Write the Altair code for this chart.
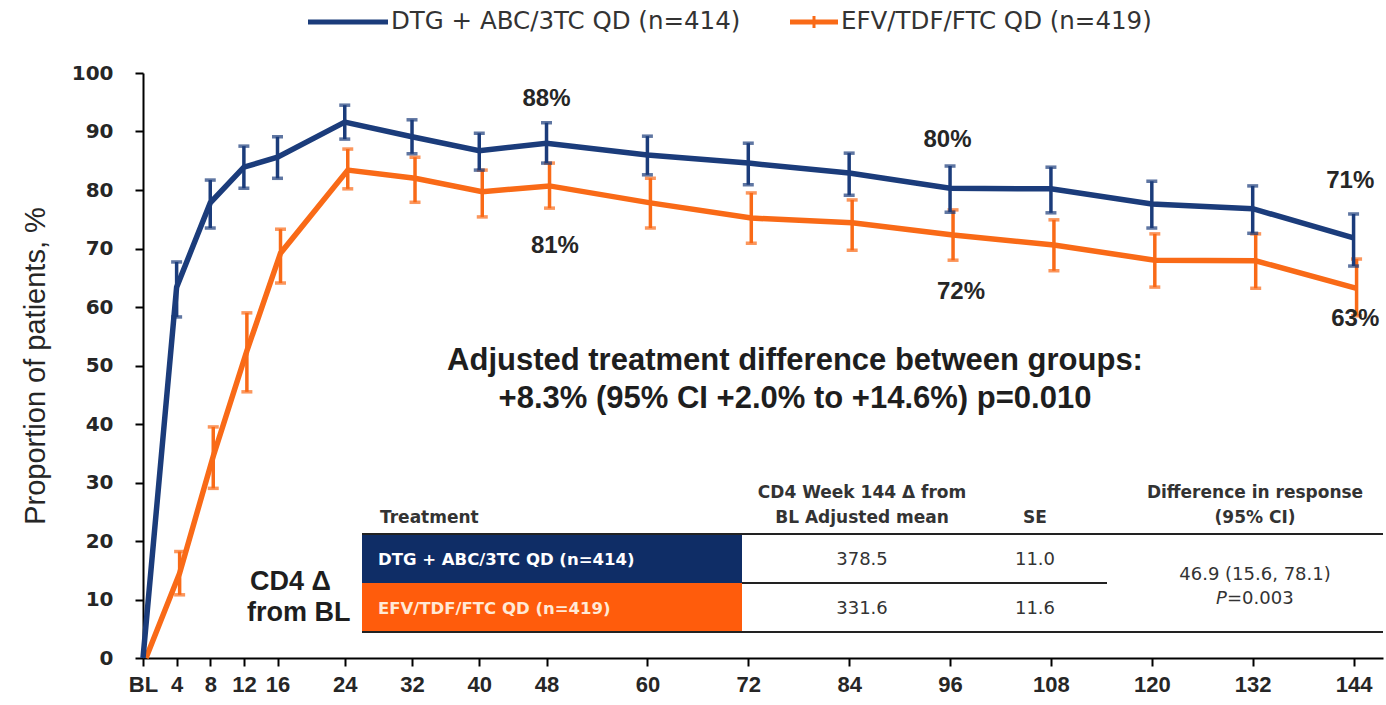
import altair as alt
import pandas as pd

# ---------------- data ----------------
weeks = [0, 4, 8, 12, 16, 24, 32, 40, 48, 60, 72, 84, 96, 108, 120, 132, 144]

dtg_mean = [0, 63.4, 77.8, 83.9, 85.6, 91.6, 89.1, 86.7, 88.0, 86.0, 84.6, 82.9, 80.3, 80.2, 77.6, 76.8, 71.8]
dtg_lo = [None, 58.3, 73.5, 80.3, 82.0, 88.7, 86.2, 83.4, 84.6, 82.6, 80.9, 79.1, 76.2, 76.1, 73.5, 72.6, 67.0]
dtg_hi = [None, 67.7, 81.7, 87.5, 89.1, 94.5, 92.0, 89.7, 91.5, 89.2, 88.0, 86.3, 84.1, 83.9, 81.5, 80.7, 75.9]

efv_mean = [0, 14.5, 34.5, 52.5, 69.2, 83.4, 82.0, 79.7, 80.7, 77.8, 75.2, 74.4, 72.3, 70.6, 68.0, 67.9, 63.2]
efv_lo = [None, 10.8, 29.0, 45.5, 64.1, 80.2, 77.9, 75.4, 76.9, 73.5, 70.9, 69.7, 68.0, 66.2, 63.4, 63.2, 58.5]
efv_hi = [None, 18.2, 39.5, 59.0, 73.3, 87.0, 85.6, 83.4, 84.6, 82.0, 79.5, 78.3, 76.6, 74.9, 72.5, 72.5, 68.2]

series_names = ["DTG + ABC/3TC QD (n=414)", "EFV/TDF/FTC QD (n=419)"]

label_text = ["88%", "81%", "80%", "72%", "71%", "63%"]
label_week = [48, 49, 95.7, 97.3, 143.6, 144.2]
label_pos = [95.5, 70.5, 88.5, 62.5, 81.5, 58.0]

note_lines = ["Adjusted treatment difference between groups:",
              "+8.3% (95% CI +2.0% to +14.6%) p=0.010"]

table_header = ["Treatment", "CD4 Week 144  \u0394 from", "BL Adjusted mean", "SE",
                "Difference in response", "(95% CI)"]
cd4_mean = ["378.5", "331.6"]
cd4_se = ["11.0", "11.6"]
diff_text = "46.9 (15.6, 78.1)"
p_text = "=0.003"

# ---------------- style ----------------
BLUE = "#1B3C7B"
ORANGE = "#F96A17"
CELL_BLUE = "#0F2D66"
CELL_ORANGE = "#FF5C0C"
TXT = "#262626"
L, T = 143, 73          # plot-area origin in page pixels
W, H = 1240, 585

xs = alt.Scale(domain=[0, 147.5], nice=False, zero=False)
ys = alt.Scale(domain=[0, 100], nice=False)

xaxis = alt.Axis(values=weeks, labelExpr="datum.value == 0 ? 'BL' : datum.label",
                 title=None, grid=False, domainColor="black", domainWidth=2,
                 tickColor="black", tickWidth=2, tickSize=8,
                 labelFont="Liberation Sans", labelFontSize=22, labelFontWeight="bold",
                 labelColor=TXT, labelPadding=8, labelOverlap=False, labelFlush=False)
yaxis = alt.Axis(values=list(range(0, 101, 10)), title="Proportion of patients, %",
                 grid=False, domainColor="black", domainWidth=2,
                 tickColor="black", tickWidth=2, tickSize=8,
                 labelFont="DejaVu Sans", labelFontSize=20, labelFontWeight="bold",
                 labelColor=TXT, labelPadding=22, labelOverlap=False, labelFlush=False,
                 titleFont="Liberation Sans", titleFontSize=29, titleFontWeight="normal",
                 titleColor=TXT, titleX=35 - L, titleY=H / 2, titleBaseline="middle",
                 titleAngle=-90)

X = alt.X("week:Q", scale=xs, axis=xaxis)


def Yf(field):
    return alt.Y(f"{field}:Q", scale=ys, axis=yaxis)


def series(mean, lo, hi, color, xoff):
    df = pd.DataFrame({"week": weeks, "mean": mean, "lo": lo, "hi": hi})
    eb = df.dropna()
    line = alt.Chart(df).mark_line(color=color, strokeWidth=5.5, xOffset=xoff).encode(x=X, y=Yf("mean"))
    bars = alt.Chart(eb).mark_rule(color=color, strokeWidth=3.5, xOffset=xoff).encode(
        x=X, y=Yf("lo"), y2="hi:Q")
    cap_lo = alt.Chart(eb).mark_tick(color=color, orient="horizontal", size=11, thickness=3.5,
                                     xOffset=xoff).encode(x=X, y=Yf("lo"))
    cap_hi = alt.Chart(eb).mark_tick(color=color, orient="horizontal", size=11, thickness=3.5,
                                     xOffset=xoff).encode(x=X, y=Yf("hi"))
    return [line, bars, cap_lo, cap_hi]


one = pd.DataFrame({"k": [0]})


def rect(x1, x2, y1, y2, color):
    return alt.Chart(one).mark_rect(color=color).encode(
        x=alt.value(x1 - L), x2=alt.value(x2 - L), y=alt.value(y1 - T), y2=alt.value(y2 - T))


def hline(x1, x2, y, color="black", w=2):
    return alt.Chart(one).mark_rule(color=color, strokeWidth=w).encode(
        x=alt.value(x1 - L), x2=alt.value(x2 - L), y=alt.value(y - T))


def vline(x, y1, y2, color, w=3):
    return alt.Chart(one).mark_rule(color=color, strokeWidth=w).encode(
        x=alt.value(x - L), y=alt.value(y1 - T), y2=alt.value(y2 - T))


def label(txt, x, y, size, weight="normal", align="center", color=TXT,
          font="DejaVu Sans", style="normal"):
    return alt.Chart(one).mark_text(text=txt, fontSize=size, fontWeight=weight, align=align,
                                    baseline="middle", color=color, font=font,
                                    fontStyle=style).encode(
        x=alt.value(x - L), y=alt.value(y - T))


layers = []
layers += series(efv_mean, efv_lo, efv_hi, ORANGE, 3)
layers += series(dtg_mean, dtg_lo, dtg_hi, BLUE, 0)

# value labels
lab_df = pd.DataFrame({"week": label_week, "pos": label_pos, "txt": label_text})
layers.append(alt.Chart(lab_df).mark_text(font="Liberation Sans", fontSize=24, fontWeight="bold",
                                          color=TXT, baseline="middle").encode(
    x=X, y=Yf("pos"), text="txt:N"))

# legend
layers += [
    hline(308, 388, 22, BLUE, 5),
    label(series_names[0], 391, 22, 24.5, align="left", font="DejaVu Sans", color="#333"),
    hline(790, 838, 22, ORANGE, 5),
    vline(814, 16, 28, ORANGE, 3),
    label(series_names[1], 841, 22, 24.5, align="left", font="DejaVu Sans", color="#333"),
]

# central note
layers += [
    label(note_lines[0], 795, 361, 31, weight="bold", font="Liberation Sans", color="#1e1e1e"),
    label(note_lines[1], 795, 399, 31, weight="bold", font="Liberation Sans", color="#1e1e1e"),
]

# table
HS = 17
VS = 18
layers += [
    rect(362, 742, 535, 583, CELL_BLUE),
    rect(362, 742, 583, 632, CELL_ORANGE),
    hline(362, 1383, 534, "#222", 2),
    hline(742, 1107, 583, "#222", 2),
    hline(362, 1383, 632, "#222", 2),
    label(table_header[0], 380, 518, HS, weight="bold", align="left", color="#333"),
    label(table_header[1], 862, 493, HS, weight="bold", color="#333"),
    label(table_header[2], 862, 518, HS, weight="bold", color="#333"),
    label(table_header[3], 1035, 518, HS, weight="bold", color="#333"),
    label(table_header[4], 1255, 493, HS, weight="bold", color="#333"),
    label(table_header[5], 1255, 518, HS, weight="bold", color="#333"),
    label(series_names[0], 378, 560, 16.5, weight="bold", align="left", color="white"),
    label(series_names[1], 378, 609, 16.5, weight="bold", align="left", color="#ffe9d6"),
    label(cd4_mean[0], 862, 560, VS, color="#333"),
    label(cd4_mean[1], 862, 609, VS, color="#333"),
    label(cd4_se[0], 1035, 560, VS, color="#333"),
    label(cd4_se[1], 1035, 609, VS, color="#333"),
    label(diff_text, 1255, 575, VS, color="#333"),
    label("P", 1216, 599, VS, align="left", color="#333", style="italic"),
    label(p_text, 1227, 599, VS, align="left", color="#333"),
    label("CD4 \u0394", 250, 582, 27, weight="bold", align="left", font="Liberation Sans", color="#1e1e1e"),
    label("from BL", 247, 613, 27, weight="bold", align="left", font="Liberation Sans", color="#1e1e1e"),
]

chart = alt.layer(*layers).properties(
    width=W, height=H,
    autosize=alt.AutoSizeParams(type="none"),
    padding={"left": L, "top": T, "right": 1386 - L - W, "bottom": 705 - T - H},
    background="white",
).configure_view(strokeWidth=0)

chart.save("out.html", embed_options={"renderer": "svg", "actions": False})
